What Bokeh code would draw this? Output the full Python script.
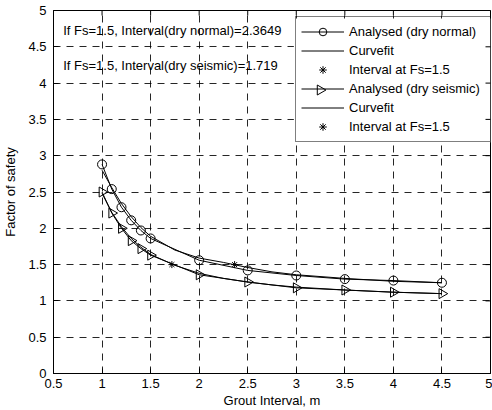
from bokeh.plotting import figure
from bokeh.models import Legend, LegendItem, Label, FixedTicker, Range1d
from bokeh.embed import file_html
from bokeh.resources import INLINE
import math

# ---- data ----
interval = [1.0, 1.1, 1.2, 1.3, 1.4, 1.5, 2.0, 2.5, 3.0, 3.5, 4.0, 4.5]
fs_dry_normal = [2.88, 2.54, 2.29, 2.11, 1.97, 1.86, 1.56, 1.42, 1.35, 1.30, 1.28, 1.25]
fs_dry_seismic = [2.50, 2.21, 2.00, 1.83, 1.72, 1.63, 1.36, 1.26, 1.18, 1.15, 1.12, 1.10]

fit_interval = [1.0, 1.1, 1.2, 1.3, 1.4, 1.5, 1.75, 2.0, 2.25, 2.5, 2.75, 3.0, 3.5, 4.0, 4.5]
fit_dry_normal = [2.80, 2.56, 2.34, 2.16, 2.01, 1.89, 1.70, 1.59, 1.53, 1.46, 1.40, 1.36, 1.31, 1.27, 1.25]
fit_dry_seismic = [2.48, 2.22, 2.02, 1.86, 1.74, 1.64, 1.49, 1.38, 1.31, 1.26, 1.22, 1.19, 1.15, 1.12, 1.10]

fs_target = [1.5]
interval_at_fs_normal = [2.3649]
interval_at_fs_seismic = [1.719]

x_ticks = [0.5, 1, 1.5, 2, 2.5, 3, 3.5, 4, 4.5, 5]
x_tick_labels = ["0.5", "1", "1.5", "2", "2.5", "3", "3.5", "4", "4.5", "5"]
y_ticks = [0, 0.5, 1, 1.5, 2, 2.5, 3, 3.5, 4, 4.5, 5]
y_tick_labels = ["0", "0.5", "1", "1.5", "2", "2.5", "3", "3.5", "4", "4.5", "5"]

FONT = "Liberation Sans"
FS = "13px"

# ---- layout (pixels) ----
W, H = 492, 410
B_LEFT, B_RIGHT, B_TOP, B_BOTTOM = 50, 2, 10, 37
FRAME_W = W - B_LEFT - B_RIGHT
FRAME_H = H - B_TOP - B_BOTTOM
LEG_X, LEG_Y = 242, 231          # legend bottom-left, px from frame bottom-left
LEG_PAD, ROW_H, GLYPH_W, LABEL_W, STANDOFF = 5, 19, 43, 140, 5
N_ROWS = 6
LEG_W = 2 * LEG_PAD + GLYPH_W + STANDOFF + LABEL_W
LEG_H = 2 * LEG_PAD + N_ROWS * ROW_H

x0, x1 = x_ticks[0], x_ticks[-1]
y0, y1 = y_ticks[0], y_ticks[-1]
def px_x(px):
    return x0 + px * (x1 - x0) / FRAME_W
def px_y(px):
    return y0 + px * (y1 - y0) / FRAME_H

p = figure(width=W, height=H, output_backend="svg", toolbar_location=None,
           x_range=Range1d(x0, x1), y_range=Range1d(y0, y1),
           min_border_left=B_LEFT, min_border_right=B_RIGHT,
           min_border_top=B_TOP, min_border_bottom=B_BOTTOM)
p.background_fill_color = "white"
p.border_fill_color = "white"
p.outline_line_color = "black"
p.outline_line_width = 1

for ax, ticks, labels in ((p.xaxis[0], x_ticks, x_tick_labels), (p.yaxis[0], y_ticks, y_tick_labels)):
    ax.ticker = FixedTicker(ticks=ticks)
    ax.major_label_overrides = {t: l for t, l in zip(ticks, labels)}
    ax.minor_tick_line_color = None
    ax.major_tick_in = 5
    ax.major_tick_out = 0
    ax.axis_line_color = "black"
    ax.major_tick_line_color = "black"
    ax.major_label_text_font = FONT
    ax.major_label_text_font_size = FS
    ax.major_label_text_color = "black"
    ax.axis_label_text_font = FONT
    ax.axis_label_text_font_size = FS
    ax.axis_label_text_font_style = "normal"
    ax.axis_label_text_color = "black"

p.xaxis.axis_label = "Grout Interval, m"
p.yaxis.axis_label = "Factor of safety"
p.xaxis.major_label_standoff = 5
p.xaxis.axis_label_standoff = 2
p.yaxis.major_label_standoff = 7
p.yaxis.axis_label_standoff = 7

for gr, ticks in ((p.xgrid[0], x_ticks), (p.ygrid[0], y_ticks)):
    gr.ticker = FixedTicker(ticks=ticks)
    gr.grid_line_color = "black"
    gr.grid_line_dash = "7 6"
    gr.grid_line_width = 1
    gr.grid_line_alpha = 0.85

# white legend background (drawn as a glyph so the legend glyph below can sit on top of it)
p.quad(left=[px_x(LEG_X)], right=[px_x(LEG_X + LEG_W)], bottom=[px_y(LEG_Y)], top=[px_y(LEG_Y + LEG_H)],
       fill_color="white", line_color=None)

# tick marks on the top and right edges of the box (clipped to the frame)
p.scatter(x_ticks, [y1] * len(x_ticks), marker="dash", angle=math.pi / 2, size=10,
          line_color="black", line_width=1)
p.scatter([x1] * len(y_ticks), y_ticks, marker="dash", size=10,
          line_color="black", line_width=1)

# series
l1 = p.line(interval, fs_dry_normal, line_color="black", line_width=1)
m1 = p.scatter(interval, fs_dry_normal, marker="circle", size=9, fill_color=None, line_color="black", line_width=1)
c1 = p.line(fit_interval, fit_dry_normal, line_color="black", line_width=1)
s1 = p.scatter(interval_at_fs_normal, fs_target, marker="asterisk", size=7, line_color="black", line_width=1)

l2 = p.line(interval, fs_dry_seismic, line_color="black", line_width=1)
m2 = p.scatter(interval, fs_dry_seismic, marker="triangle", angle=-math.pi / 2, size=10,
               fill_color=None, line_color="black", line_width=1)
c2 = p.line(fit_interval, fit_dry_seismic, line_color="black", line_width=1)
s2 = p.scatter(interval_at_fs_seismic, fs_target, marker="asterisk", size=7, line_color="black", line_width=1)

# right-pointing triangle for the "dry seismic" legend row (legend draws markers unrotated)
gx = px_x(LEG_X + LEG_PAD + GLYPH_W / 2)
gy = px_y(LEG_Y + LEG_H - LEG_PAD - 3 * ROW_H - ROW_H / 2)
p.scatter([gx], [gy], marker="triangle", angle=-math.pi / 2, size=10,
          fill_color="white", line_color="black", line_width=1)

legend = Legend(items=[
    LegendItem(label="Analysed (dry normal)", renderers=[l1, m1]),
    LegendItem(label="Curvefit", renderers=[c1]),
    LegendItem(label="Interval at Fs=1.5", renderers=[s1]),
    LegendItem(label="Analysed (dry seismic)", renderers=[l2]),
    LegendItem(label="Curvefit", renderers=[c2]),
    LegendItem(label="Interval at Fs=1.5", renderers=[s2]),
], location=(LEG_X, LEG_Y))
legend.label_text_font = FONT
legend.label_text_font_size = FS
legend.label_text_color = "black"
legend.glyph_width = GLYPH_W
legend.glyph_height = ROW_H
legend.label_height = ROW_H
legend.label_width = LABEL_W
legend.label_standoff = STANDOFF
legend.spacing = 0
legend.padding = LEG_PAD
legend.margin = 0
legend.border_line_color = "black"
legend.border_line_width = 1
legend.background_fill_alpha = 0
p.add_layout(legend, "center")

txt1 = "If Fs=%s, Interval(dry  normal)=%s" % (fs_target[0], interval_at_fs_normal[0])
txt2 = "If Fs=%s, Interval(dry seismic)=%s" % (fs_target[0], interval_at_fs_seismic[0])
for t, yy in ((txt1, 4.72), (txt2, 4.24)):
    p.add_layout(Label(x=0.6, y=yy, text=t, text_font=FONT, text_font_size=FS,
                       text_baseline="middle", text_color="black"))

open("out.html", "w").write(file_html(p, INLINE))
